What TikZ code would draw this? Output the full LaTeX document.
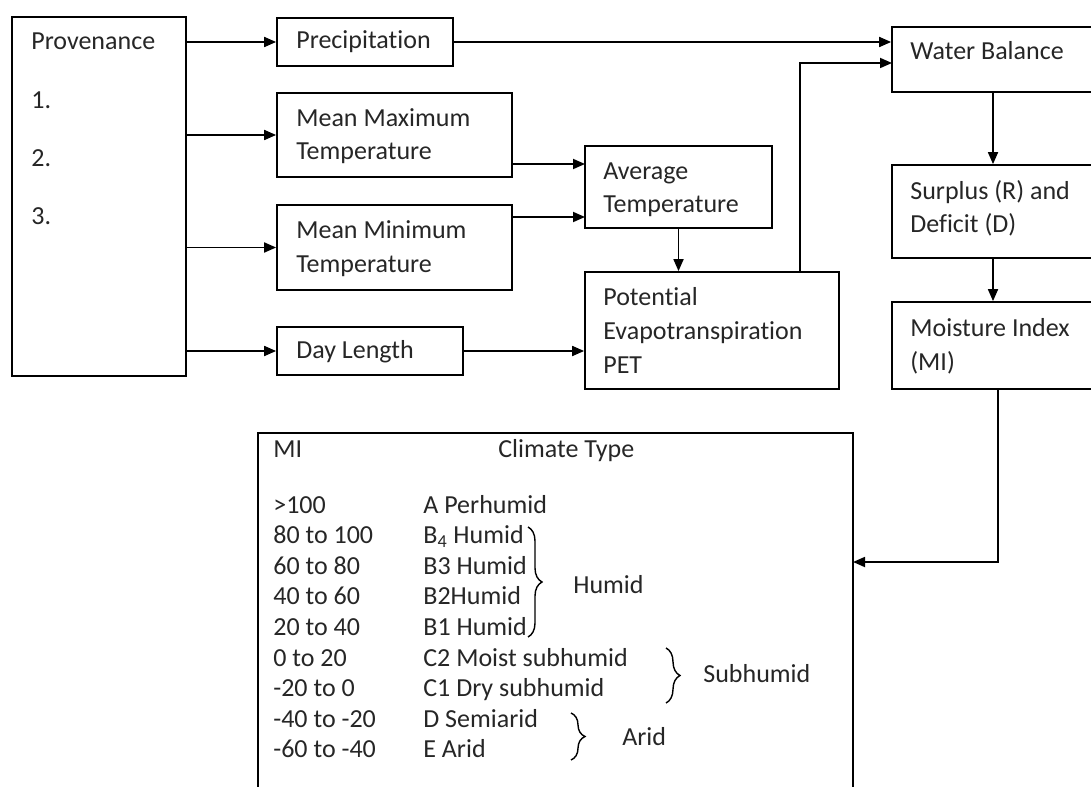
\documentclass[tikz,border=0pt]{standalone}
\usepackage{fontspec}
\setmainfont{Carlito}[Ligatures=NoCommon]
\usetikzlibrary{arrows.meta, fit, calc, decorations.pathreplacing}

\tikzset{
  box/.style={draw, line width=1pt, inner sep=0pt},
  lbl/.style={anchor=base west, inner sep=0pt, align=left, text=black!85,
              font=\fontsize{14.8}{19.2}\selectfont},
  arr/.style={line width=1pt, -{Triangle[length=2.4mm, width=2mm]}},
  brc/.style={line width=0.8pt, decorate, decoration={brace, amplitude=2.8mm}}
}

\begin{document}
\begin{tikzpicture}[x=0.02cm, y=-0.02cm]
    \useasboundingbox (0,0) rectangle (1091,787);
    \clip (0,0) rectangle (1091,787);

    % Input boxes
    \node[box, fit={(12,17) (186,376)}] (prov) {};
    \node[box, fit={(277,18) (453,66)}] (prec) {};
    \node[box, fit={(277,93) (512,177)}] (mmax) {};
    \node[box, fit={(277,205) (512,290)}] (mmin) {};
    \node[box, fit={(277,327) (463,375)}] (dayl) {};
    \node[box, fit={(585,146) (772,228)}] (avg) {};
    \node[box, fit={(585,272) (839,389)}] (pet) {};

    % Right column (runs off the page)
    \node[box, fit={(892,27) (1094,92)}] (wbal) {};
    \node[box, fit={(892,165) (1094,258)}] (surp) {};
    \node[box, fit={(892,302) (1094,389)}] (moist) {};
    \node[box, fit={(258,433) (853,800)}] (tab) {};

    % Box texts (base = last line)
    \node[lbl] (provt) at (31,50) {Provenance};
    \foreach \n in {1,2,3}
        \node[lbl] (num\n) at (31,{109+57.5*(\n-1)}) {\n.};
    \node[lbl] (prect) at (296,49) {Precipitation};
    \node[lbl] (mmaxt) at (296,160) {Mean Maximum\\Temperature};
    \node[lbl] (mmint) at (296,272) {Mean Minimum\\Temperature};
    \node[lbl] (daylt) at (296,358) {Day Length};
    \node[lbl] (avgt) at (603,213) {Average\\Temperature};
    \node[lbl] (pett) at (603,373) {Potential\\Evapotranspiration\\PET};
    \node[lbl] (wbalt) at (910,60) {Water Balance};
    \node[lbl] (surpt) at (910,233) {Surplus (R) and\\Deficit (D)};
    \node[lbl] (moistt) at (910,370) {Moisture Index\\(MI)};

    % Connectors
    \coordinate (avgin1) at (585,164);
    \coordinate (avgin2) at (585,217);
    \coordinate (wbin) at (892,63);
    \coordinate (tabin) at (853,562);
    \foreach \b in {prec, mmax, mmin, dayl}
        \draw[arr] (prov.east |- \b.west) -- (\b.west);
    \draw[arr] (prec.east) -- (prec.east -| wbal.west);
    \draw[arr] (mmax.east |- avgin1) -- (avgin1);
    \draw[arr] (mmin.east |- avgin2) -- (avgin2);
    \draw[arr] (avg.south) -- (avg.south |- pet.north);
    \draw[arr] (dayl.east) -- (dayl.east -| pet.west);
    \draw[arr] ([xshift=1.76cm]pet.north) |- (wbin);
    \draw[arr] (wbal.south) -- (surp.north);
    \draw[arr] (surp.south) -- (moist.south |- moist.north);
    \draw[arr] ([xshift=0.1cm]moist.south) |- (tabin);

    % Climate table
    \node[lbl] (mih) at (273,457) {MI};
    \node[lbl] (cth) at (498,457) {Climate Type};
    \foreach \mi/\ct [count=\i from 0] in {{>100}/{A Perhumid},
        {80 to 100}/{B\textsubscript{4} Humid}, {60 to 80}/{B3 Humid},
        {40 to 60}/{B2Humid}, {20 to 40}/{B1 Humid},
        {0 to 20}/{C2 Moist subhumid}, {-20 to 0}/{C1 Dry subhumid},
        {-40 to -20}/{D Semiarid}, {-60 to -40}/{E Arid}} {
        \node[lbl] (mi\i) at (273,{513+30.6*\i}) {\mi};
        \node[lbl] (ct\i) at (423,{513+30.6*\i}) {\ct};
    }

    % Groups
    \draw[brc] (528,527) -- (528,637);
    \node[lbl] (humid) at (573,593) {Humid};
    \draw[brc] (666,648) -- (666,703);
    \node[lbl] (subhumid) at (703,682) {Subhumid};
    \draw[brc] (571,713) -- (571,760);
    \node[lbl] (arid) at (622,745) {Arid};
\end{tikzpicture}
\end{document}
